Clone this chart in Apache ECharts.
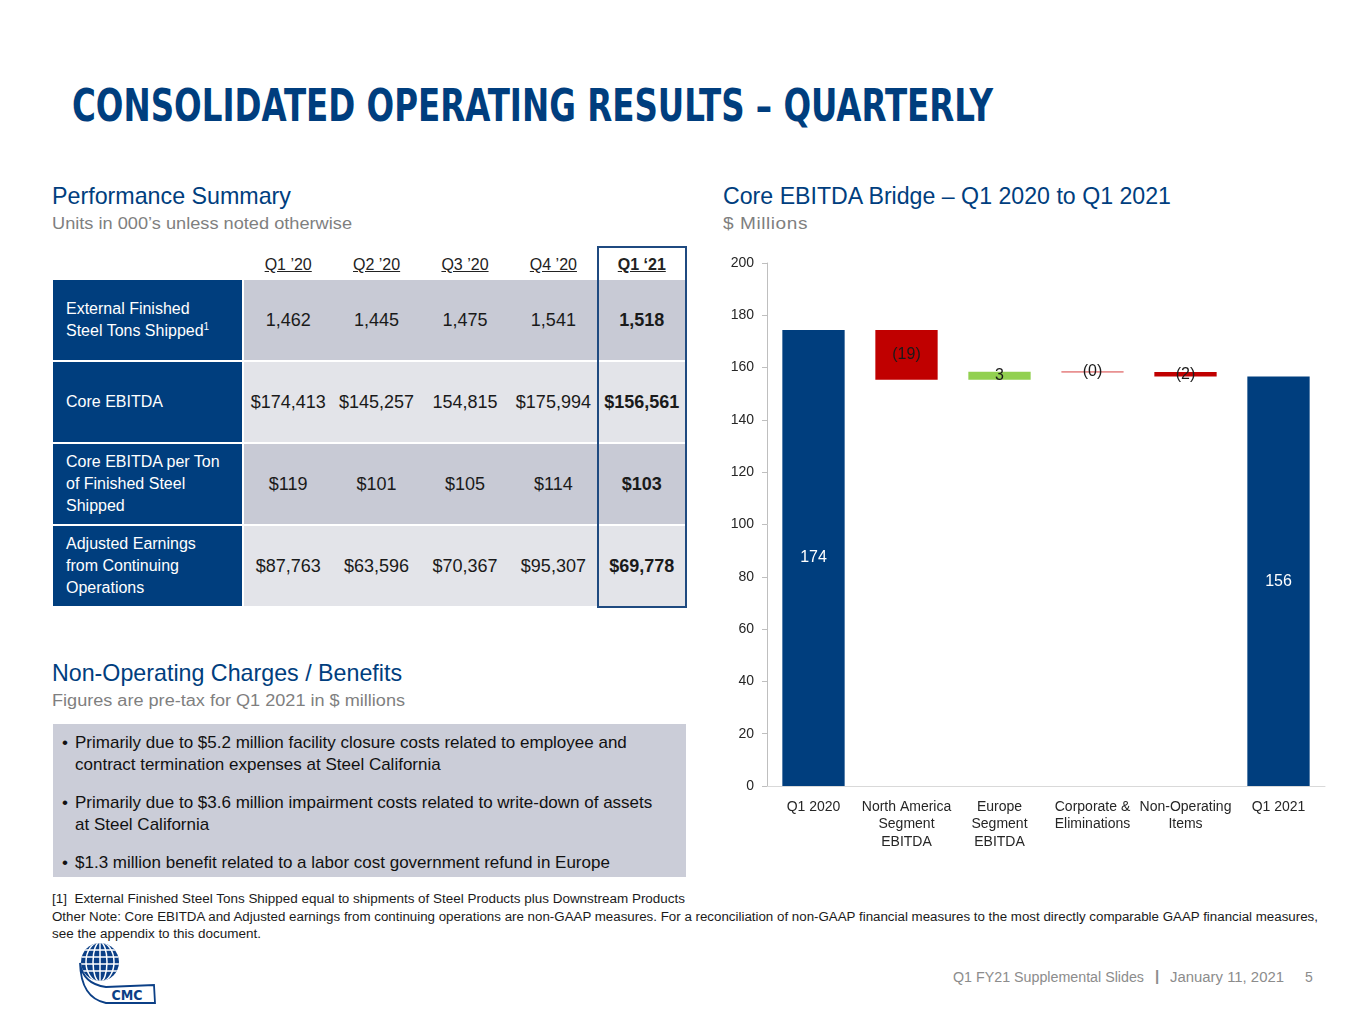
<!DOCTYPE html>
<html>
<head>
<meta charset="utf-8">
<script src="https://cdn.jsdelivr.net/npm/echarts@6.0.0/dist/echarts.min.js"></script>
<style>
  html, body { margin: 0; padding: 0; background: #fff; }
  body { width: 1365px; height: 1024px; position: relative; overflow: hidden;
         font-family: "Liberation Sans", Arial, sans-serif; color: #1a1a1a; }
  .abs { position: absolute; white-space: nowrap; }
  .cond { font-family: "Liberation Sans Narrow", "DejaVu Sans Condensed", "Liberation Sans", sans-serif; }
  .navy { color: #003e7e; }
  .gray { color: #7f7f7f; }
  .fit { display: inline-block; transform-origin: 0 0; }
  .cell { position: absolute; box-sizing: border-box; display: flex; align-items: center; }
  .lab { background: #003e7e; color: #fff; font-size: 16px; line-height: 22px; padding-left: 13px; white-space: normal; }
  .lab sup { font-size: 10px; line-height: 0; vertical-align: 6px; }
  .val { justify-content: center; font-size: 18px; color: #1a1a1a; }
  .hdr { justify-content: center; font-size: 16px; text-decoration: underline; color: #222; }
  #chart { position: absolute; left: 700px; top: 240px; width: 665px; height: 640px; }
  .bul { position: absolute; left: 62px; font-size: 17px; line-height: 22px; color: #111; white-space: pre; }
  .bul span.dot { position: absolute; left: 0; }
  .bul div { padding-left: 13px; }
</style>
</head>
<body>

<div class="abs cond navy fit" data-w="921" style="left:72px; top:84px; font-size:44px; line-height:44px; font-weight:bold;">CONSOLIDATED OPERATING RESULTS – QUARTERLY</div>

<div class="abs navy fit" data-w="239" style="left:52px; top:182px; font-size:24px; line-height:28px;">Performance Summary</div>
<div class="abs gray fit" data-w="300" style="left:52px; top:214px; font-size:16px; line-height:20px;">Units in 000’s unless noted otherwise</div>

<div class="abs navy fit" data-w="448" style="left:723px; top:182px; font-size:23px; line-height:28px;">Core EBITDA Bridge – Q1 2020 to Q1 2021</div>
<div class="abs gray fit" data-w="85" style="left:723px; top:214px; font-size:17px; line-height:20px; letter-spacing:0.5px;">$ Millions</div>

<div id="table"></div>

<div class="abs navy fit" data-w="350" style="left:52px; top:659px; font-size:24px; line-height:28px;">Non-Operating Charges / Benefits</div>
<div class="abs gray fit" data-w="353" style="left:52px; top:691px; font-size:16px; line-height:20px;">Figures are pre-tax for Q1 2021 in $ millions</div>

<div style="position:absolute; left:53px; top:724px; width:633px; height:153px; background:#cbcdd8;"></div>
<div id="bullets"></div>

<div class="abs fit" data-w="633" style="left:52px; top:891px; font-size:12.5px; line-height:16px; color:#1a1a1a;">[1]&nbsp; External Finished Steel Tons Shipped equal to shipments of Steel Products plus Downstream Products</div>
<div class="abs fit" data-w="1266" style="left:52px; top:909px; font-size:12.5px; line-height:16px; color:#1a1a1a;">Other Note: Core EBITDA and Adjusted earnings from continuing operations are non-GAAP measures. For a reconciliation of non-GAAP financial measures to the most directly comparable GAAP financial measures,</div>
<div class="abs fit" data-w="209" style="left:52px; top:926px; font-size:12.5px; line-height:16px; color:#1a1a1a;">see the appendix to this document.</div>

<div class="abs fit" data-w="191" style="left:953px; top:968px; font-size:14px; line-height:18px; color:#8c8c8c;">Q1 FY21 Supplemental Slides</div>
<div class="abs" style="left:1155px; top:967px; font-size:15px; line-height:18px; color:#8c8c8c; font-weight:bold;">|</div>
<div class="abs fit" data-w="114" style="left:1170px; top:968px; font-size:14px; line-height:18px; color:#8c8c8c;">January 11, 2021</div>
<div class="abs" style="left:1305px; top:968px; font-size:14px; line-height:18px; color:#8c8c8c;">5</div>

<svg style="position:absolute; left:76px; top:940px;" width="82" height="68" viewBox="0 0 82 68">
  <defs><clipPath id="g"><circle cx="24" cy="22" r="19"/></clipPath></defs>
  <circle cx="24" cy="22" r="19" fill="#0b3f86"/>
  <g clip-path="url(#g)" stroke="#fff" stroke-width="1.5" fill="none">
    <line x1="0" y1="10" x2="50" y2="10"/><line x1="0" y1="17" x2="50" y2="17"/>
    <line x1="0" y1="24" x2="50" y2="24"/><line x1="0" y1="31" x2="50" y2="31"/>
    <line x1="24" y1="0" x2="24" y2="45"/>
    <ellipse cx="24" cy="22" rx="7" ry="20"/><ellipse cx="24" cy="22" rx="14" ry="20"/>
  </g>
  <path d="M4 23 Q7 44 30 47 L78 45 L79 63 L30 63 Q5 58 4 23 Z" fill="#fff" stroke="#0b3f86" stroke-width="1.8"/>
  <text x="51" y="60" text-anchor="middle" font-family="DejaVu Sans Condensed, Liberation Sans, sans-serif" font-weight="bold" font-size="14" fill="#0b3f86">CMC</text>
</svg>

<div id="chart"></div>

<script>
  // ---- table data
  var quarters = ["Q1 ’20", "Q2 ’20", "Q3 ’20", "Q4 ’20", "Q1 ‘21"];
  var rowLabels = [
    "External Finished<br>Steel Tons Shipped<sup>1</sup>",
    "Core EBITDA",
    "Core EBITDA per Ton<br>of Finished Steel<br>Shipped",
    "Adjusted Earnings<br>from Continuing<br>Operations"
  ];
  var tonsShipped = ["1,462", "1,445", "1,475", "1,541", "1,518"];
  var coreEbitda = ["$174,413", "$145,257", "154,815", "$175,994", "$156,561"];
  var ebitdaPerTon = ["$119", "$101", "$105", "$114", "$103"];
  var adjEarnings = ["$87,763", "$63,596", "$70,367", "$95,307", "$69,778"];

  // ---- bullet text (line breaks as on the slide)
  var bullets = [
    "Primarily due to $5.2 million facility closure costs related to employee and\ncontract termination expenses at Steel California",
    "Primarily due to $3.6 million impairment costs related to write-down of assets\nat Steel California",
    "$1.3 million benefit related to a labor cost government refund in Europe"
  ];

  // ---- bridge chart data ($ millions)
  var categories = ["Q1 2020", "North America\nSegment\nEBITDA", "Europe\nSegment\nEBITDA",
                    "Corporate &\nEliminations", "Non-Operating\nItems", "Q1 2021"];
  var startValue = 174.4;
  var endValue = 156.6;
  var deltas = [-19.0, 3.0, -0.1, -1.7];
  var deltaLabels = ["(19)", "3", "(0)", "(2)"];
  var totalLabels = ["174", "156"];

  var navy = "#003e7e", red = "#c00000", green = "#92d050";

  // build table
  var table = document.getElementById("table");
  var rows = [tonsShipped, coreEbitda, ebitdaPerTon, adjEarnings];
  var rowTops = [280, 362, 444, 526];
  var rowFill = ["#c8cad5", "#e3e4e9", "#c8cad5", "#e3e4e9"];
  var colLeft = 244, colW = 88.4;
  var html = "";
  quarters.forEach(function (q, c) {
    html += "<div class='cell hdr' style='left:" + (colLeft + c * colW) + "px;top:250px;width:" + colW +
        "px;height:30px;" + (c == 4 ? "font-weight:bold;" : "") + "'>" + q + "</div>";
  });
  rows.forEach(function (r, i) {
    html += "<div class='cell lab' style='left:53px;top:" + rowTops[i] + "px;width:189px;height:80px;'><div>" + rowLabels[i] + "</div></div>";
    html += "<div class='cell' style='left:" + colLeft + "px;top:" + rowTops[i] + "px;width:" + (686 - colLeft) + "px;height:80px;background:" + rowFill[i] + "'></div>";
    r.forEach(function (v, c) {
      html += "<div class='cell val' style='left:" + (colLeft + c * colW) + "px;top:" + rowTops[i] + "px;width:" + colW +
          "px;height:80px;" + (c == 4 ? "font-weight:bold;" : "") + "'>" + v + "</div>";
    });
  });
  html += "<div style='position:absolute;box-sizing:border-box;left:597px;top:246px;width:90px;height:362px;border:2px solid #1f4a80;'></div>";
  table.innerHTML = html;

  // bullets
  var bulletTops = [732, 792, 852];
  var bh = "";
  bullets.forEach(function (b, i) {
    bh += "<div class='bul' style='top:" + bulletTops[i] + "px'><span class='dot'>•</span><div>" + b + "</div></div>";
  });
  document.getElementById("bullets").innerHTML = bh;

  // squeeze text lines to the widths seen on the slide
  document.querySelectorAll(".fit").forEach(function (el) {
    var target = +el.getAttribute("data-w");
    var w = el.getBoundingClientRect().width;
    if (w > 0) el.style.transform = "scaleX(" + (target / w) + ")";
  });

  // ---- waterfall
  var base = [0], totals = [startValue], changes = ["-"], colors = [null];
  var running = startValue;
  deltas.forEach(function (d) {
    var next = running + d;
    base.push(Math.min(running, next));
    totals.push("-");
    changes.push(Math.abs(d));
    colors.push(d < 0 ? red : green);
    running = next;
  });
  base.push(0);
  totals.push(endValue);
  changes.push("-");

  var changeData = changes.map(function (v, i) {
    if (v === "-") return "-";
    var item = {value: v, itemStyle: {color: colors[i]}};
    if (v < 0.5) item.itemStyle = {color: "#e06666", borderColor: "#e06666", borderWidth: 0.8};
    return item;
  });

  var chart = echarts.init(document.getElementById("chart"));
  chart.setOption({
    animation: false,
    textStyle: {fontFamily: "Liberation Sans, Arial, sans-serif"},
    grid: {left: 67, right: 40, top: 23, bottom: 94},
    xAxis: {
      type: "category",
      data: categories,
      axisLine: {lineStyle: {color: "#d9d9d9"}},
      axisTick: {show: false},
      axisLabel: {interval: 0, fontSize: 14, lineHeight: 17.5, color: "#262626", margin: 12}
    },
    yAxis: {
      type: "value",
      min: 0, max: 200, interval: 20,
      axisLine: {show: true, lineStyle: {color: "#bfbfbf"}},
      axisTick: {show: true, length: 5, lineStyle: {color: "#bfbfbf"}},
      splitLine: {show: false},
      axisLabel: {fontSize: 14, color: "#262626", margin: 13}
    },
    series: [
      {
        type: "bar", stack: "w", barWidth: "67%", silent: true,
        itemStyle: {color: "transparent"},
        data: base
      },
      {
        type: "bar", stack: "w", barWidth: "67%",
        itemStyle: {color: navy},
        label: {
          show: true, position: "inside", color: "#fff", fontSize: 16,
          formatter: function (p) { return p.dataIndex === 0 ? totalLabels[0] : totalLabels[1]; }
        },
        data: totals
      },
      {
        type: "bar", stack: "w", barWidth: "67%",
        label: {
          show: true, position: "inside", color: "#1a1a1a", fontSize: 16,
          formatter: function (p) { return deltaLabels[p.dataIndex - 1]; }
        },
        data: changeData
      }
    ]
  });
</script>
</body>
</html>
